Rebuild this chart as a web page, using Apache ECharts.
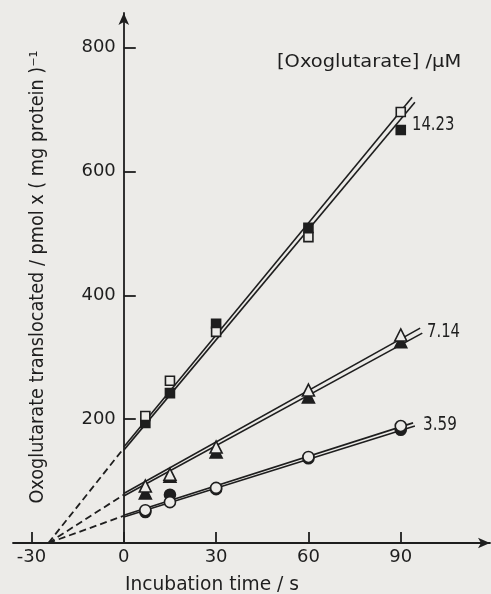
<!DOCTYPE html>
<html><head><meta charset="utf-8">
<script src="https://cdn.jsdelivr.net/npm/echarts@6/dist/echarts.min.js"></script>
<style>html,body{margin:0;padding:0;background:#ecebe8;}#c{width:491px;height:594px;}</style>
</head><body><div id="c"></div>
<script>
// ---- data ----
var xTicks = [-30, 0, 30, 60, 90];
var yTicks = [200, 400, 600, 800];
var openSquares    = [[7,205],[15,262],[30,341],[60,494],[90,696]];
var filledSquares  = [[7,194],[15,242],[30,354],[60,509],[90,667]];
var openTriangles  = [[7,92],[15,111],[30,155],[60,247],[90,336]];
var filledTriangles= [[7,81],[15,108],[30,147],[60,236],[90,325]];
var openCircles    = [[7,53],[15,66],[30,89],[60,139],[90,189]];
var filledCircles  = [[7,50],[15,78],[30,87],[60,137],[90,183]];
// fitted lines (solid) and extrapolations (dashed)
var fit1423a = [[0,155],[93.7,720]];
var fit1423b = [[0,150],[94.6,712]];
var fit714a  = [[0,80],[96.3,347]];
var fit714b  = [[0,76],[97,339]];
var fit359a  = [[0,45],[94,194]];
var fit359b  = [[0,42],[94.6,189]];
var dash1423 = [[-24.5,0],[0,153]];
var dash714  = [[-24.5,0],[0,78]];
var dash359  = [[-24.5,0],[0,44]];
var concLabels = ['14.23','7.14','3.59'];

var ink = '#1e1e1e', bg = '#ecebe8';
var font = 'DejaVu Sans';
var X_MIN = -36, X_MAX = 119, GL = 13, GR = 1, W = 491;
var yOffset = -((0 - X_MIN) / (X_MAX - X_MIN)) * (W - GL - GR);
function line(d, dashed){
  return {type:'line', data:d, symbol:'none', silent:true, z:2,
    lineStyle:{color:ink, width: dashed ? 1.8 : 1.6, type: dashed ? [7,4] : 'solid'}};
}
function pts(d, sym, filled, size){
  return {type:'scatter', data:d, symbol:sym, symbolSize:size, z: filled?3:4,
    itemStyle:{color: filled?ink:bg, borderColor:ink, borderWidth:1.6, opacity:1}};
}
function txt(s, x, y, size, sx, align, rot){
  return {type:'text', x:x, y:y, rotation:rot||0, scaleX:sx, scaleY:1,
    style:{text:s, font:size+'px "DejaVu Sans"', fill:ink, align:align||'left', verticalAlign:'middle'}};
}
var chart = echarts.init(document.getElementById('c'));
chart.setOption({
  backgroundColor: bg,
  animation:false,
  grid:{left:GL, right:GR, top:13, bottom:51, outerBoundsMode:'none', containLabel:false},
  xAxis:{type:'value', min:X_MIN, max:X_MAX,
    axisLine:{onZero:true, lineStyle:{color:ink, width:1.8}, symbol:['none','arrow'], symbolSize:[8,12]},
    axisTick:{show:true, inside:true, length:11, customValues:xTicks, lineStyle:{color:ink,width:1.8}},
    axisLabel:{customValues:xTicks, color:ink, fontFamily:font, fontSize:18, margin:5},
    splitLine:{show:false}},
  yAxis:{type:'value', min:0, max:856, position:'left', offset:yOffset,
    axisLine:{onZero:false, lineStyle:{color:ink, width:1.8}, symbol:['none','arrow'], symbolSize:[8,12]},
    axisTick:{show:true, inside:true, length:12, customValues:yTicks, lineStyle:{color:ink,width:1.8}},
    axisLabel:{customValues:yTicks, color:ink, fontFamily:font, fontSize:18, margin:8},
    splitLine:{show:false}},
  series:[
    line(dash1423,true), line(dash714,true), line(dash359,true),
    line(fit1423a), line(fit1423b), line(fit714a), line(fit714b), line(fit359a), line(fit359b),
    pts(filledSquares,'rect',true,9), pts(openSquares,'rect',false,9),
    pts(filledTriangles,'triangle',true,12), pts(openTriangles,'triangle',false,12),
    pts(filledCircles,'circle',true,11), pts(openCircles,'circle',false,11)
  ],
  graphic:[
    txt(concLabels[0], 412, 125, 19, 0.78),
    txt(concLabels[1], 427, 332, 19, 0.78),
    txt(concLabels[2], 423, 425, 19, 0.8),
    txt('[Oxoglutarate] /\u03bcM', 277, 62, 18, 1.08),
    txt('Incubation time / s', 212, 585, 19, 0.98, 'center'),
    txt('Oxoglutarate translocated / pmol x ( mg protein )\u207b\u00b9', 38, 277, 19, 0.93, 'center', Math.PI/2)
  ]
});
</script></body></html>
